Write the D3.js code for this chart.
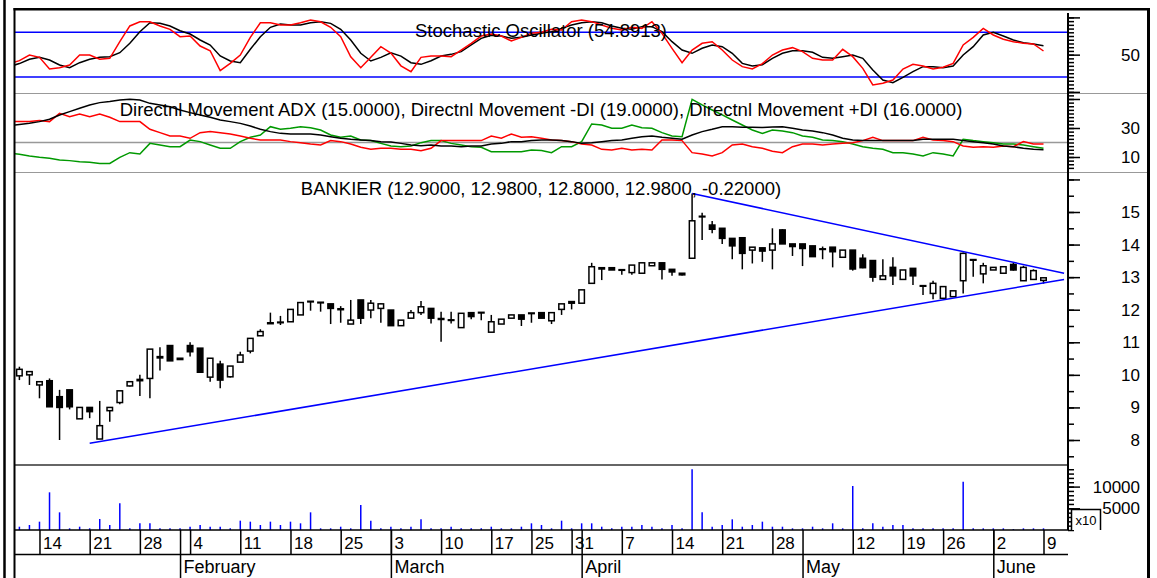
<!DOCTYPE html>
<html>
<head>
<meta charset="utf-8">
<script src="https://cdnjs.cloudflare.com/ajax/libs/d3/7.8.5/d3.min.js"></script>
<style>
body { margin: 0; background: #fff; }
svg { display: block; font-family: "Liberation Sans", Arial, sans-serif; }
</style>
</head>
<body>
<div id="chart"></div>
<script>
// ---- data ----

// trading sessions 2008 (first one, Jan 9, only feeds the indicator lines at the left edge)
const sessions = ['01-09','01-10','01-11','01-14','01-15','01-16','01-17','01-18','01-21','01-22','01-23','01-24','01-25','01-28','01-29','01-30','01-31',
  '02-01','02-04','02-05','02-06','02-07','02-08','02-11','02-12','02-13','02-14','02-15','02-18','02-19','02-20','02-21','02-22','02-25','02-26','02-27','02-28','02-29',
  '03-03','03-04','03-05','03-06','03-07','03-10','03-11','03-12','03-13','03-14','03-17','03-18','03-19','03-20','03-25','03-26','03-27','03-28','03-31',
  '04-01','04-02','04-03','04-04','04-07','04-08','04-09','04-10','04-11','04-14','04-15','04-16','04-17','04-18','04-21','04-22','04-23','04-24','04-25','04-28','04-29','04-30',
  '05-05','05-06','05-07','05-08','05-09','05-12','05-13','05-14','05-15','05-16','05-19','05-20','05-21','05-23','05-26','05-27','05-28','05-29','05-30',
  '06-02','06-03','06-04','06-05','06-06','06-09'];

// candles from Jan 10
const open = [9.97,10.00,9.69,9.82,9.33,9.54,8.65,9.00,8.03,8.90,
  9.15,9.66,9.86,9.89,10.56,10.90,10.51,10.90,10.82,9.93,
  10.33,9.94,10.39,10.73,11.20,11.60,11.62,11.63,11.84,12.26,
  12.23,12.18,12.03,11.56,12.30,11.99,12.04,11.99,11.51,11.74,
  11.91,12.04,11.73,11.69,11.45,11.91,11.92,11.31,11.56,11.74,
  11.84,11.90,11.91,11.66,12.01,12.25,12.20,12.81,13.29,13.29,
  13.23,13.14,13.12,13.35,13.44,13.24,13.12,13.58,14.87,14.60,
  14.50,14.19,14.21,13.83,13.90,13.83,14.45,14.02,14.02,13.96,
  13.87,13.92,13.61,13.83,13.58,13.51,12.93,13.30,12.93,13.27,
  12.74,12.50,12.35,12.40,12.89,13.54,13.10,13.22,13.12,13.39,
  12.89,12.93,12.90];
const high = [10.25,10.10,9.79,9.89,9.54,9.54,9.00,9.00,9.20,9.00,
  9.51,9.79,10.00,10.79,10.85,10.90,10.51,11.00,10.82,10.51,
  10.43,10.27,10.71,11.12,11.40,11.91,11.81,12.01,12.22,12.26,
  12.23,12.18,12.11,12.30,12.30,12.30,12.20,11.99,11.68,11.99,
  12.27,12.04,11.94,11.94,11.89,11.91,11.92,11.84,11.71,11.84,
  11.84,11.90,11.91,11.91,12.18,12.25,12.61,13.44,13.29,13.29,
  13.25,13.37,13.44,13.44,13.44,13.24,13.12,15.57,14.98,14.72,
  14.50,14.19,14.21,13.92,13.90,14.50,14.47,14.02,14.02,13.96,
  13.94,13.92,13.83,13.83,13.70,13.51,13.55,13.61,13.22,13.27,
  12.74,12.89,12.71,12.58,13.76,13.54,13.44,13.30,13.32,13.44,
  13.35,13.24,12.98];
const low = [9.84,9.69,9.28,9.02,8.00,8.94,8.65,8.67,8.03,8.56,
  9.10,9.64,9.35,9.28,10.13,10.43,10.46,10.56,10.08,9.79,
  9.59,9.92,10.39,10.66,11.20,11.58,11.53,11.63,11.84,11.97,
  11.94,11.56,11.60,11.56,11.56,11.74,11.60,11.51,11.51,11.74,
  11.84,11.58,11.02,11.58,11.45,11.71,11.68,11.31,11.56,11.74,
  11.50,11.60,11.74,11.56,11.84,12.01,12.20,12.81,12.91,13.22,
  13.07,13.07,13.12,13.35,12.93,13.04,13.05,13.58,14.14,14.35,
  14.02,13.55,13.24,13.42,13.47,13.24,14.02,13.65,13.34,13.63,
  13.55,13.30,13.61,13.20,13.27,12.86,12.93,12.76,12.93,12.76,
  12.45,12.32,12.35,12.40,12.50,13.01,12.81,13.22,13.12,13.20,
  12.89,12.93,12.80];
const close = [10.17,10.10,9.79,9.02,9.00,9.02,9.00,8.87,8.44,9.00,
  9.51,9.79,9.82,10.79,10.52,10.43,10.47,10.71,10.08,10.51,
  9.84,10.27,10.61,11.12,11.33,11.57,11.60,12.01,12.22,12.24,
  12.21,12.04,12.00,11.68,11.74,12.20,12.18,11.51,11.68,11.91,
  12.09,11.74,11.70,11.67,11.89,11.79,11.90,11.63,11.71,11.84,
  11.71,11.88,11.74,11.91,12.18,12.20,12.61,13.32,13.25,13.22,
  13.21,13.37,13.44,13.44,13.24,13.16,13.07,14.73,14.85,14.47,
  14.19,13.96,13.73,13.92,13.80,14.02,14.02,13.94,13.88,13.63,
  13.85,13.78,13.83,13.25,13.29,13.00,13.04,13.04,13.22,13.04,
  12.72,12.81,12.71,12.58,13.73,13.52,13.35,13.30,13.32,13.22,
  13.30,13.20,12.98];
const volume = [760,1150,1920,8680,4070,390,760,390,2530,1150,
  6150,390,1540,1540,390,390,390,760,1150,760,
  760,390,2150,1920,1150,1920,1150,1920,1540,4070,
  390,390,760,390,5760,2150,390,760,390,760,
  2460,390,390,760,390,390,390,760,390,390,
  760,1540,1150,390,2150,390,1540,1540,760,390,
  760,760,1150,760,390,1150,390,13980,4070,760,
  1150,2460,760,1150,1920,760,760,390,390,760,
  390,1540,390,10140,390,1540,760,1150,1150,390,
  390,390,390,390,11130,390,390,390,390,200,
  390,390,390];

// indicators from Jan 9
const stochK = [38,42,49.5,46.4,30.7,32.5,36.1,49.5,49.5,43.8,
  45.1,67.4,88.5,94.2,94.2,88.5,84,74.1,75,61.6,
  55.3,28.5,38.4,49.5,73.2,92.8,92.8,89.8,89.8,92.8,
  96.5,94.2,86.7,74.1,47.2,32.5,46.4,60.7,52.2,35,
  27.2,46.4,48.2,48.2,47.3,56.2,65.2,75.0,77.7,75.0,
  68.3,73.2,78.6,80.0,84.0,83.1,94.3,96.5,94.3,89.8,
  85.3,83.1,86.7,85.3,94.3,78.6,58.5,39.2,56.2,65.2,
  67.4,56.2,42.8,33.9,30.7,38,49.5,56.2,59.4,54.0,
  45.1,42.8,42.8,57.1,47.3,31.6,9.3,11.5,16.0,30.7,
  37.0,34.8,30.7,33.0,38.3,63.0,73.2,85.3,76.4,70.6,
  67.4,65.2,64.3,54.9];
const stochD = [34,38,43.8,46.4,42.8,36.1,32.5,39.2,43.8,46.4,
  47.2,52.6,65.2,80.8,92.8,92.0,88.5,82.1,77.7,69.7,
  62.9,48.2,41.5,39.2,57.2,74.1,86.7,91.1,89.8,89.8,
  92.8,94.2,92.0,84.0,69.7,51.8,41.5,46.4,52.6,48,
  39.2,37.0,41.9,48.2,50.4,54.0,63.0,71.9,75.9,75.0,
  71.9,73.2,76.4,78.6,80.9,85.3,89.8,92.9,94.3,92.9,
  88.5,85.3,84.0,87.6,87.6,80.9,67.4,56.2,51.8,58.5,
  63.0,60.7,51.8,38.3,34.8,36.5,45.1,51.8,55.3,55.3,
  53.1,46.4,45.1,47.3,49.5,45.1,29.4,16.0,12.4,19.6,
  27.2,33.9,33.9,32.5,34.8,49.5,60.7,76.4,80.0,75.0,
  69.7,66.1,64.3,62.1];
const adx = [31.6,32.4,33.2,34.4,36.0,39.0,41.3,43.6,45.9,47.5,
  48.2,49.3,49.8,49.3,47.0,45.9,44.7,42.4,40.6,39.0,
  37.4,35.5,34.4,33.2,31.4,29.1,27.5,26.3,25.9,25.9,
  25.9,25.2,24.0,22.9,22.2,21.7,21.3,20.6,20.3,19.4,
  18.3,17.8,18.3,17.6,17.6,17.1,17.6,17.6,19.0,19.4,
  20.6,20.6,21.3,21.7,21.7,21.3,20.6,19.4,19.9,20.6,
  21.3,21.7,22.9,24.0,24.5,23.6,22.9,22.2,25.2,27.5,
  29.1,30.9,30.9,30.5,30.5,30.4,30.7,30.9,29.8,28.6,
  27.9,26.8,25.2,22.9,21.7,21.3,21.3,21.3,21.3,21.3,
  21.3,22.2,22.2,22.2,22.2,21.3,20.6,19.9,19.0,17.6,
  17.1,16.0,15.3,15.0];
const minusDI = [34.4,34.4,34.4,35.1,34.4,40.1,37.8,39.7,37.8,39.7,
  37.4,34.4,34.4,34.4,29.1,26.8,24.5,24.5,22.9,26.8,
  27.5,26.8,25.9,24.5,22.9,21.7,21.7,21.7,20.6,19.9,
  19.0,18.3,21.3,20.6,19.0,16.7,15.3,16.0,16.0,15.3,
  15.3,14.4,16.0,21.3,21.3,21.3,21.3,21.3,24.5,22.9,
  25.9,23.6,24.0,22.9,21.7,21.3,20.6,19.0,18.3,15.3,
  14.8,16.0,14.8,15.3,14.8,21.7,21.7,21.3,13.0,12.1,
  10.7,13.0,18.3,19.0,17.1,16.0,14.0,13.0,17.1,19.0,
  19.0,18.3,19.0,19.4,19.9,21.3,23.6,21.3,21.3,21.3,
  21.3,23.6,21.7,21.3,20.6,17.6,16.7,17.1,16.7,17.6,
  17.1,20.6,19.0,19.0];
const plusDI = [12.6,11.9,10.7,9.8,9.1,7.9,7.5,6.8,6.3,5.6,
  5.6,9.8,13.0,12.1,19.4,18.3,17.1,17.1,21.7,20.6,
  18.3,16.0,16.0,20.6,23.6,25.2,30.9,29.1,29.8,30.9,
  30.2,28.6,25.2,23.6,24.5,21.7,21.3,19.4,17.6,17.1,
  17.6,19.9,21.3,21.3,19.4,18.3,17.1,16.7,13.7,13.7,
  13.7,13.7,14.8,14.4,13.0,17.1,17.1,20.6,32.8,32.1,
  29.8,29.8,32.1,30.2,29.8,26.8,24.5,24.0,49.8,45.9,
  42.4,39.0,35.5,32.1,28.6,26.3,28.6,27.9,26.8,24.5,
  23.6,21.7,21.3,20.6,19.0,17.1,16.0,15.3,13.0,13.0,
  12.1,10.7,13.0,12.1,10.7,22.2,21.3,20.6,19.9,19.0,
  19.0,18.3,17.1,16.0];

// trend lines: [session index, price]
const lowerTrend = [[8, 7.90], [105.05, 12.93]];
const upperTrend = [[68, 15.57], [105.05, 13.12]];

// axis labels
const weekTicks = ['01-14','01-21','01-28','02-04','02-11','02-18','02-25','03-03','03-10','03-17','03-25','03-31',
  '04-07','04-14','04-21','04-28','05-12','05-19','05-26','06-02','06-09'];
const monthTicks = ['02-01','03-03','04-01','05-05','06-02'];
const monthNames = ['February','March','April','May','June'];
const stochLabels = [50];
const adxLabels = [30, 10];
const priceLabels = [15, 14, 13, 12, 11, 10, 9, 8];
const volLabels = [10000, 5000];

const stochTitle = 'Stochastic Oscillator (54.8913)';
const adxTitle = 'Directnl Movement ADX (15.0000), Directnl Movement -DI (19.0000), Directnl Movement +DI (16.0000)';
const priceTitle = 'BANKIER (12.9000, 12.9800, 12.8000, 12.9800, -0.22000)';

// ---- layout ----
const W = 1157, H = 578;
const plotL = 14, plotR = 1068, frameR = 1148;
const font = '"Liberation Sans", Arial, sans-serif';

const svg = d3.select('#chart').append('svg')
  .attr('width', W)
  .attr('height', H);
svg.append('rect').attr('width', W).attr('height', H).attr('fill', '#fff');

// scales
const x = d3.scaleLinear().domain([0, sessions.length - 1]).range([9.36, 1043.5]);
const yStoch = d3.scaleLinear().domain([0, 100]).range([91.9, 17.4]);
const yAdx = d3.scaleLinear().domain([10, 30]).range([157, 128]);
const yPrice = d3.scaleLinear().domain([8, 15]).range([440, 212]);
const yVol = d3.scaleLinear().domain([0, 10000]).range([530, 486.6]);

const defs = svg.append('defs');
function panel(id, top, bottom) {
  defs.append('clipPath').attr('id', id).append('rect')
    .attr('x', plotL + 1).attr('y', top).attr('width', plotR - plotL - 1).attr('height', bottom - top);
  return svg.append('g').attr('clip-path', `url(#${id})`);
}
function hline(y, x1, x2, color, w) {
  svg.append('line').attr('x1', x1).attr('x2', x2).attr('y1', y).attr('y2', y)
    .attr('stroke', color).attr('stroke-width', w);
}

// separators & reference lines
hline(93.5, plotL, frameR, '#999', 1);
hline(172.5, plotL, frameR, '#999', 1);
hline(465, plotL, plotR, '#333', 1.5);
hline(yStoch(80), plotL, plotR, '#0000ff', 1.5);
hline(yStoch(20), plotL, plotR, '#0000ff', 1.5);
hline(yAdx(20), plotL, plotR, '#999', 1.5);

// stochastic
const gStoch = panel('clipStoch', 10, 93);
const lineStoch = d3.line().x((d, i) => x(i)).y(d => yStoch(d));
gStoch.append('path').attr('d', lineStoch(stochD)).attr('fill', 'none').attr('stroke', '#000').attr('stroke-width', 1.5);
gStoch.append('path').attr('d', lineStoch(stochK)).attr('fill', 'none').attr('stroke', '#ff0000').attr('stroke-width', 1.5);

// directional movement
const gAdx = panel('clipAdx', 94, 172);
const lineAdx = d3.line().x((d, i) => x(i)).y(d => yAdx(d));
gAdx.append('path').attr('d', lineAdx(plusDI)).attr('fill', 'none').attr('stroke', '#009900').attr('stroke-width', 1.5);
gAdx.append('path').attr('d', lineAdx(minusDI)).attr('fill', 'none').attr('stroke', '#ff0000').attr('stroke-width', 1.5);
gAdx.append('path').attr('d', lineAdx(adx)).attr('fill', 'none').attr('stroke', '#000').attr('stroke-width', 1.5);

// candles
const bars = open.map((o, i) => ({s: i + 1, o: o, h: high[i], l: low[i], c: close[i], v: volume[i]}));
const gPrice = panel('clipPrice', 173, 465);
gPrice.selectAll('line.wick').data(bars).join('line')
  .attr('class', 'wick')
  .attr('x1', d => x(d.s)).attr('x2', d => x(d.s))
  .attr('y1', d => yPrice(d.h)).attr('y2', d => yPrice(d.l))
  .attr('stroke', '#000').attr('stroke-width', 1.5);
gPrice.selectAll('rect.body').data(bars).join('rect')
  .attr('class', 'body')
  .attr('x', d => x(d.s) - 2.75)
  .attr('width', 5.5)
  .attr('y', d => yPrice(Math.max(d.o, d.c)))
  .attr('height', d => Math.max(0.5, Math.abs(yPrice(d.o) - yPrice(d.c))))
  .attr('fill', d => d.c >= d.o ? '#fff' : '#000')
  .attr('stroke', '#000').attr('stroke-width', 1.5);

const trendLine = d3.line().x(d => x(d[0])).y(d => yPrice(d[1]));
[lowerTrend, upperTrend].forEach(t => {
  gPrice.append('path').attr('d', trendLine(t)).attr('fill', 'none')
    .attr('stroke', '#0000ff').attr('stroke-width', 1.5);
});

// volume
const gVol = panel('clipVol', 466, 530);
gVol.selectAll('line').data(bars).join('line')
  .attr('x1', d => x(d.s)).attr('x2', d => x(d.s))
  .attr('y1', yVol(0)).attr('y2', d => yVol(d.v))
  .attr('stroke', '#0000ff').attr('stroke-width', 1.5);

// titles
[[stochTitle, 37], [adxTitle, 116], [priceTitle, 195]].forEach(t => {
  svg.append('text').attr('x', (plotL + plotR) / 2).attr('y', t[1])
    .attr('text-anchor', 'middle').attr('font-size', 18.5).attr('font-family', font)
    .text(t[0]);
});

// right axes (d3 sets its own font on the group, so override after the call)
function rightAxis(scale, minor, major, labels) {
  svg.append('g').attr('transform', `translate(${plotR},0)`)
    .call(d3.axisRight(scale).tickValues(minor).tickSize(6).tickFormat(''))
    .call(g => g.select('.domain').remove())
    .call(g => g.selectAll('line').attr('stroke-width', 1.5));
  svg.append('g').attr('transform', `translate(${plotR},0)`)
    .call(d3.axisRight(scale).tickValues(major).tickSize(12).tickFormat(d => labels.includes(d) ? d : ''))
    .attr('font-size', 17).attr('font-family', font)
    .call(g => g.select('.domain').remove())
    .call(g => g.selectAll('line').attr('stroke-width', 1.5))
    .call(g => g.selectAll('text').attr('x', 72).attr('text-anchor', 'end').attr('fill', '#000'));
}
rightAxis(yStoch, d3.range(0, 101, 5), [0, 50, 100], stochLabels);
rightAxis(yAdx, d3.range(2.5, 55, 2.5), [10, 30, 50], adxLabels);
rightAxis(yPrice, d3.range(7.5, 16.1, 0.5), d3.range(8, 17, 1), priceLabels);
rightAxis(yVol, d3.range(0, 14001, 1000), [5000, 10000], volLabels);

svg.append('line').attr('x1', plotR).attr('x2', plotR).attr('y1', 13).attr('y2', 530)
  .attr('stroke', '#000').attr('stroke-width', 2);

// x10 box
svg.append('path').attr('d', 'M1071.5,530V509.5H1100.5V530').attr('fill', '#fff')
  .attr('stroke', '#000').attr('stroke-width', 1.5);
svg.append('text').attr('x', 1086).attr('y', 525).attr('text-anchor', 'middle')
  .attr('font-size', 13).attr('font-family', font).text('x10');

// date axis
hline(530, plotL, plotR, '#000', 1.5);
hline(554.5, plotL, plotR, '#000', 1.5);

svg.append('g').attr('transform', 'translate(0,530)')
  .call(d3.axisBottom(x).tickValues(weekTicks.map(d => sessions.indexOf(d)))
    .tickSize(24).tickFormat(i => +sessions[i].slice(3)))
  .attr('font-size', 17).attr('font-family', font)
  .call(g => g.select('.domain').remove())
  .call(g => g.selectAll('line').attr('stroke-width', 1.5))
  .call(g => g.selectAll('text').attr('x', 3).attr('y', 19.3).attr('dy', null)
    .attr('text-anchor', 'start').attr('fill', '#000'));

svg.append('g').attr('transform', 'translate(0,530)')
  .call(d3.axisBottom(x).tickValues(monthTicks.map(d => sessions.indexOf(d)))
    .tickSize(48).tickFormat((d, i) => monthNames[i]))
  .attr('font-size', 18).attr('font-family', font)
  .call(g => g.select('.domain').remove())
  .call(g => g.selectAll('line').attr('stroke-width', 1.5))
  .call(g => g.selectAll('text').attr('x', 3).attr('y', 42.7).attr('dy', null)
    .attr('text-anchor', 'start').attr('fill', '#000'));

// frame
svg.append('line').attr('x1', 4.5).attr('x2', 4.5).attr('y1', 0).attr('y2', H)
  .attr('stroke', '#000').attr('stroke-width', 2.5);
svg.append('line').attr('x1', 14.5).attr('x2', 14.5).attr('y1', 8).attr('y2', H)
  .attr('stroke', '#000').attr('stroke-width', 2);
hline(9.2, 13.5, 1150, '#000', 2.5);
svg.append('line').attr('x1', 1148.5).attr('x2', 1148.5).attr('y1', 8).attr('y2', H)
  .attr('stroke', '#000').attr('stroke-width', 3);
</script>
</body>
</html>
